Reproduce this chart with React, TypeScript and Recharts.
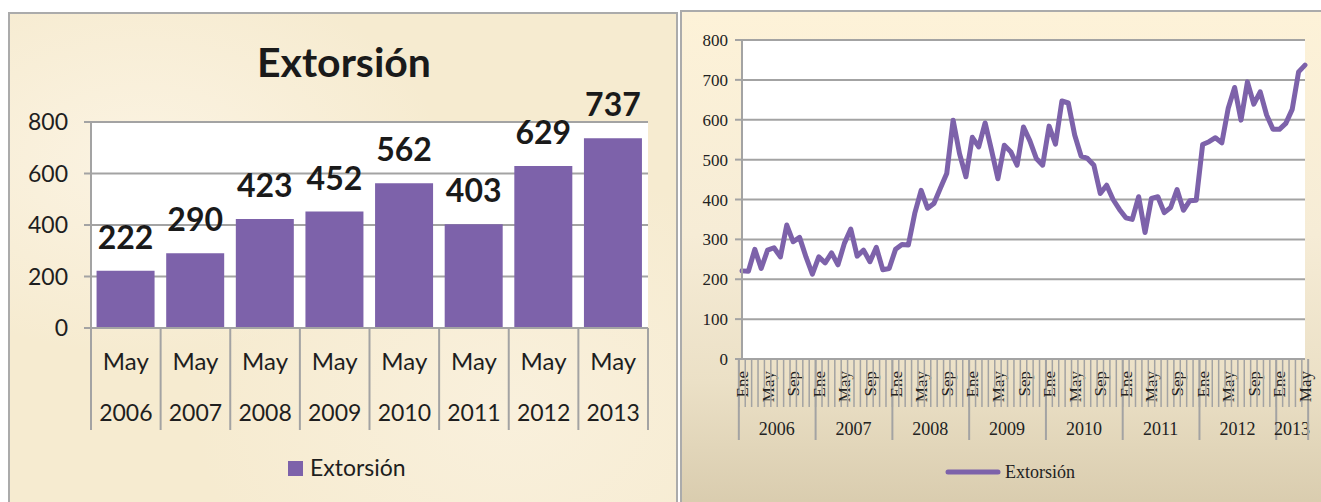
import React from 'react';
import {
  BarChart,
  Bar,
  ComposedChart,
  Line,
  XAxis,
  YAxis,
  CartesianGrid,
  LabelList
} from 'recharts';

// Left chart: May of each year
const barMeses = ['May', 'May', 'May', 'May', 'May', 'May', 'May', 'May'];
const barAnios = ['2006', '2007', '2008', '2009', '2010', '2011', '2012', '2013'];
const barValores = [222, 290, 423, 452, 562, 403, 629, 737];
const barTicks = [0, 200, 400, 600, 800];

// Right chart: monthly series
const mesesCortos = ['Ene', 'Feb', 'Mar', 'Abr', 'May', 'Jun', 'Jul', 'Ago', 'Sep', 'Oct', 'Nov', 'Dic'];
const anios = ['2006', '2007', '2008', '2009', '2010', '2011', '2012', '2013'];
const valores2006 = [221, 220, 275, 227, 273, 279, 256, 336, 294, 305, 256, 213];
const valores2007 = [256, 241, 266, 236, 290, 326, 258, 273, 244, 280, 224, 227];
const valores2008 = [275, 287, 286, 365, 423, 378, 390, 428, 465, 599, 515, 457];
const valores2009 = [556, 532, 592, 524, 452, 536, 520, 486, 582, 547, 503, 486];
const valores2010 = [584, 539, 647, 642, 562, 509, 503, 486, 415, 436, 400, 375];
const valores2011 = [354, 350, 407, 317, 403, 407, 367, 380, 425, 373, 397, 398];
const valores2012 = [538, 545, 555, 542, 629, 681, 599, 695, 639, 670, 612, 576];
const valores2013 = [576, 591, 626, 720, 737];
const lineTicks = [0, 100, 200, 300, 400, 500, 600, 700, 800];

const valoresPorAnio = [
  valores2006, valores2007, valores2008, valores2009,
  valores2010, valores2011, valores2012, valores2013
];

const barData = barValores.map((v, i) => ({
  id: `${barMeses[i]} ${barAnios[i]}`,
  mes: barMeses[i],
  anio: barAnios[i],
  valor: v
}));

const lineData = valoresPorAnio.flatMap((vals, a) =>
  vals.map((v, m) => ({
    id: `${mesesCortos[m]} ${anios[a]}`,
    mes: m,
    anio: anios[a],
    extorsion: v
  }))
);

const PURPLE = '#7d62aa';
const GRID = '#a3a3a3';
const SANS = 'Lato, "Open Sans", sans-serif';
const SERIF = '"Liberation Serif", "DejaVu Serif", serif';

// left chart geometry (chart coords)
const B_W = 668;
const B_H = 490;
const B_TOP = 110;
const B_LEFT = 83;
const B_PLOT_W = 557;
const B_PLOT_H = 206;
const B_AXIS_Y = B_TOP + B_PLOT_H;

// right chart geometry (chart coords)
const L_W = 641;
const L_H = 492;
const L_TOP = 30;
const L_LEFT = 62;
const L_PLOT_W = 563;
const L_PLOT_H = 319;
const L_AXIS_Y = L_TOP + L_PLOT_H;
const MONTH_W = L_PLOT_W / lineData.length;

const BarXTick = (props: any) => {
  const { payload } = props;
  const i = payload.index ?? props.index;
  const cx = payload.coordinate;
  const bw = B_PLOT_W / barData.length;
  const d = barData[i];
  if (!d) return null;
  return (
    <g>
      <line x1={cx - bw / 2} y1={B_AXIS_Y} x2={cx - bw / 2} y2={B_AXIS_Y + 102} stroke={GRID} strokeWidth={2} />
      {i === barData.length - 1 && (
        <line x1={cx + bw / 2} y1={B_AXIS_Y} x2={cx + bw / 2} y2={B_AXIS_Y + 102} stroke={GRID} strokeWidth={2} />
      )}
      <text x={cx} y={B_AXIS_Y + 42} textAnchor="middle" fontFamily={SANS} fontSize={24} fill="#1e1e1e">
        {d.mes}
      </text>
      <text x={cx} y={B_AXIS_Y + 93} textAnchor="middle" fontFamily={SANS} fontSize={23} fill="#1e1e1e">
        {d.anio}
      </text>
    </g>
  );
};

const LineXTick = (props: any) => {
  const { payload } = props;
  const i = payload.index ?? props.index;
  const cx = payload.coordinate;
  const d = lineData[i];
  if (!d) return null;
  const left = cx - MONTH_W / 2;
  const y0 = L_AXIS_Y;
  const yearCount = lineData.filter((r) => r.anio === d.anio).length;
  return (
    <g>
      <line x1={left} y1={y0} x2={left} y2={y0 + 48} stroke={GRID} strokeWidth={1.5} />
      {d.mes === 0 && (
        <g>
          <line x1={left} y1={y0} x2={left} y2={y0 + 81} stroke={GRID} strokeWidth={2} />
          <text
            x={left + (yearCount * MONTH_W) / 2}
            y={y0 + 76}
            textAnchor="middle"
            fontFamily={SERIF}
            fontSize={18}
            fill="#222"
          >
            {d.anio}
          </text>
        </g>
      )}
      {i === lineData.length - 1 && (
        <line x1={cx + MONTH_W / 2} y1={y0} x2={cx + MONTH_W / 2} y2={y0 + 81} stroke={GRID} strokeWidth={2} />
      )}
      {d.mes % 4 === 0 && (
        <text
          x={cx + 6}
          y={y0 + 12}
          transform={`rotate(-90 ${cx + 6} ${y0 + 12})`}
          textAnchor="end"
          fontFamily={SERIF}
          fontSize={17}
          fill="#222"
        >
          {mesesCortos[d.mes]}
        </text>
      )}
    </g>
  );
};

export default function App() {
  return (
    <div style={{ position: 'absolute', left: 0, top: 0, width: 1321, height: 502, background: '#fff', overflow: 'hidden' }}>
      {/* left panel */}
      <div
        style={{
          position: 'absolute', left: 8, top: 12, width: 666, height: 492,
          border: '2px solid #ababab',
          background: 'radial-gradient(ellipse at 20% 30%, #fbf3e2 0%, rgba(251,243,226,0) 40%), radial-gradient(ellipse at 75% 80%, #f9f0dc 0%, rgba(249,240,220,0) 45%), #f6ebd0'
        }}
      />
      {/* right panel */}
      <div
        style={{
          position: 'absolute', left: 680, top: 10, width: 641, height: 494,
          borderLeft: '2px solid #ababab', borderTop: '2px solid #ababab',
          background: 'linear-gradient(to bottom, #fdf2d8 0%, #f6ecd6 45%, #ebe0c6 75%, #d9ccae 100%)'
        }}
      />

      <div style={{ position: 'absolute', left: 8, top: 12 }}>
        <BarChart
          width={B_W}
          height={B_H}
          data={barData}
          margin={{ top: B_TOP, right: B_W - B_LEFT - B_PLOT_W, left: 0, bottom: B_H - B_AXIS_Y - 120 }}
          barCategoryGap="8%"
        >
          <CartesianGrid vertical={false} fill="#ffffff" stroke={GRID} strokeWidth={2} />
          <XAxis
            dataKey="id"
            interval={0}
            height={120}
            tickLine={false}
            axisLine={{ stroke: GRID, strokeWidth: 2 }}
            tick={<BarXTick />}
          />
          <YAxis
            width={B_LEFT}
            domain={[0, 800]}
            ticks={barTicks}
            tickSize={7}
            tickMargin={16}
            axisLine={{ stroke: GRID, strokeWidth: 2 }}
            tickLine={{ stroke: GRID, strokeWidth: 2 }}
            tick={{ fontFamily: SANS, fontSize: 23, fill: '#1e1e1e' }}
          />
          <Bar dataKey="valor" fill={PURPLE} isAnimationActive={false}>
            <LabelList
              dataKey="valor"
              position="top"
              offset={22}
              style={{ fontFamily: SANS, fontSize: 32, fontWeight: 700, fill: '#1a1a1a' }}
            />
          </Bar>
        </BarChart>
      </div>

      <div style={{ position: 'absolute', left: 680, top: 10 }}>
        <ComposedChart
          width={L_W}
          height={L_H}
          data={lineData}
          margin={{ top: L_TOP, right: L_W - L_LEFT - L_PLOT_W, left: 0, bottom: L_H - L_AXIS_Y - 90 }}
        >
          <CartesianGrid vertical={false} fill="#ffffff" stroke={GRID} strokeWidth={2} />
          <XAxis
            dataKey="id"
            interval={0}
            height={90}
            tickLine={false}
            axisLine={{ stroke: GRID, strokeWidth: 2 }}
            tick={<LineXTick />}
          />
          <YAxis
            width={L_LEFT}
            domain={[0, 800]}
            ticks={lineTicks}
            tickSize={7}
            tickMargin={7}
            axisLine={{ stroke: GRID, strokeWidth: 2 }}
            tickLine={{ stroke: GRID, strokeWidth: 2 }}
            tick={{ fontFamily: SERIF, fontSize: 17, fill: '#222' }}
          />
          <Line
            type="linear"
            dataKey="extorsion"
            stroke={PURPLE}
            strokeWidth={5}
            strokeLinejoin="round"
            strokeLinecap="round"
            dot={false}
            isAnimationActive={false}
          />
        </ComposedChart>
      </div>

      {/* title and legends */}
      <svg width={1321} height={502} style={{ position: 'absolute', left: 0, top: 0, pointerEvents: 'none' }}>
        <text x={344} y={77} textAnchor="middle" fontFamily={SANS} fontSize={41} fontWeight={700} fill="#1a1a1a">
          Extorsión
        </text>
        <rect x={288} y={461} width={15} height={15} fill={PURPLE} />
        <text x={310} y={476} fontFamily={SANS} fontSize={23} fill="#1e1e1e">
          Extorsión
        </text>
        <line x1={948} y1={472} x2={998} y2={472} stroke={PURPLE} strokeWidth={5} strokeLinecap="round" />
        <text x={1005} y={478} fontFamily={SERIF} fontSize={18} fill="#222">
          Extorsión
        </text>
      </svg>
    </div>
  );
}
